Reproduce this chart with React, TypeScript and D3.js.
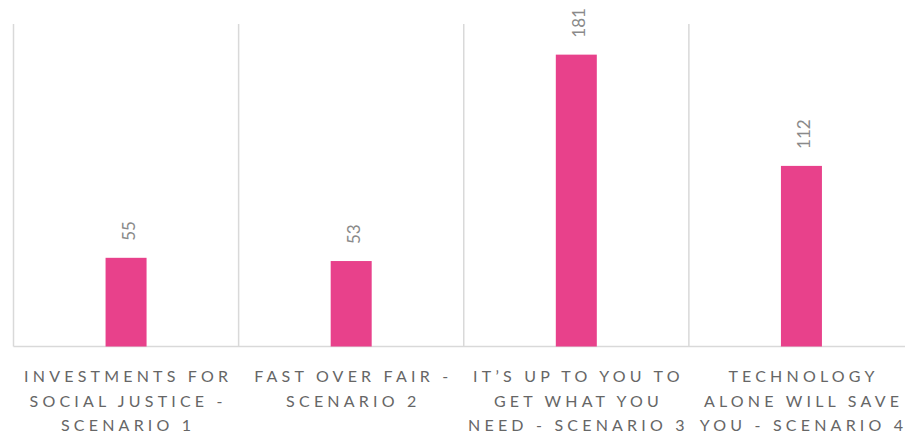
import React from "react";
import * as d3 from "d3";

const categories = [
  ["INVESTMENTS FOR", "SOCIAL JUSTICE -", "SCENARIO 1"],
  ["FAST OVER FAIR -", "SCENARIO 2"],
  ["IT\u2019S UP TO YOU TO", "GET WHAT YOU", "NEED - SCENARIO 3"],
  ["TECHNOLOGY", "ALONE WILL SAVE", "YOU - SCENARIO 4"],
];
const values = [55, 53, 181, 112];
const yMax = 200;

const W = 905;
const H = 437;
const left = 13.5;
const right = 914;
const top = 24;
const bottom = 346.5;
const ls = 4.2;

export default function App() {
  const x = d3
    .scaleBand<number>()
    .domain(values.map((_, i) => i))
    .range([left, right]);
  const y = d3.scaleLinear().domain([0, yMax]).range([bottom, top]);
  const barW = 41;

  return (
    <svg
      width={W}
      height={H}
      style={{ position: "absolute", left: 0, top: 0, background: "#fff" }}
      fontFamily="Lato, 'Open Sans', sans-serif"
    >
      {values.map((_, i) => (
        <line
          key={"g" + i}
          x1={x(i)!}
          x2={x(i)!}
          y1={top}
          y2={bottom}
          stroke="#d9d9d9"
          strokeWidth={1.5}
        />
      ))}
      <line x1={right} x2={right} y1={top} y2={bottom} stroke="#d9d9d9" strokeWidth={1.5} />
      <line x1={left} x2={right} y1={bottom} y2={bottom} stroke="#d9d9d9" strokeWidth={1.5} />
      {values.map((v, i) => {
        const cx = x(i)! + x.bandwidth() / 2;
        return (
          <g key={"b" + i}>
            <rect x={cx - barW / 2} y={y(v)} width={barW} height={bottom - y(v)} fill="#e8418b" />
            <text
              transform={`translate(${cx + 9},${y(v) - 17}) rotate(-90)`}
              fontSize={17}
              fill="#8a8a8a"
              textAnchor="start"
            >
              {v}
            </text>
          </g>
        );
      })}
      {categories.map((lines, i) => {
        const cx = x(i)! + x.bandwidth() / 2;
        return (
          <text
            key={"c" + i}
            fontSize={16}
            fill="#666666"
            textAnchor="middle"
            letterSpacing={ls}
          >
            {lines.map((l, j) => (
              <tspan key={j} x={cx + ls / 2} y={382 + j * 24.7}>
                {l}
              </tspan>
            ))}
          </text>
        );
      })}
    </svg>
  );
}
